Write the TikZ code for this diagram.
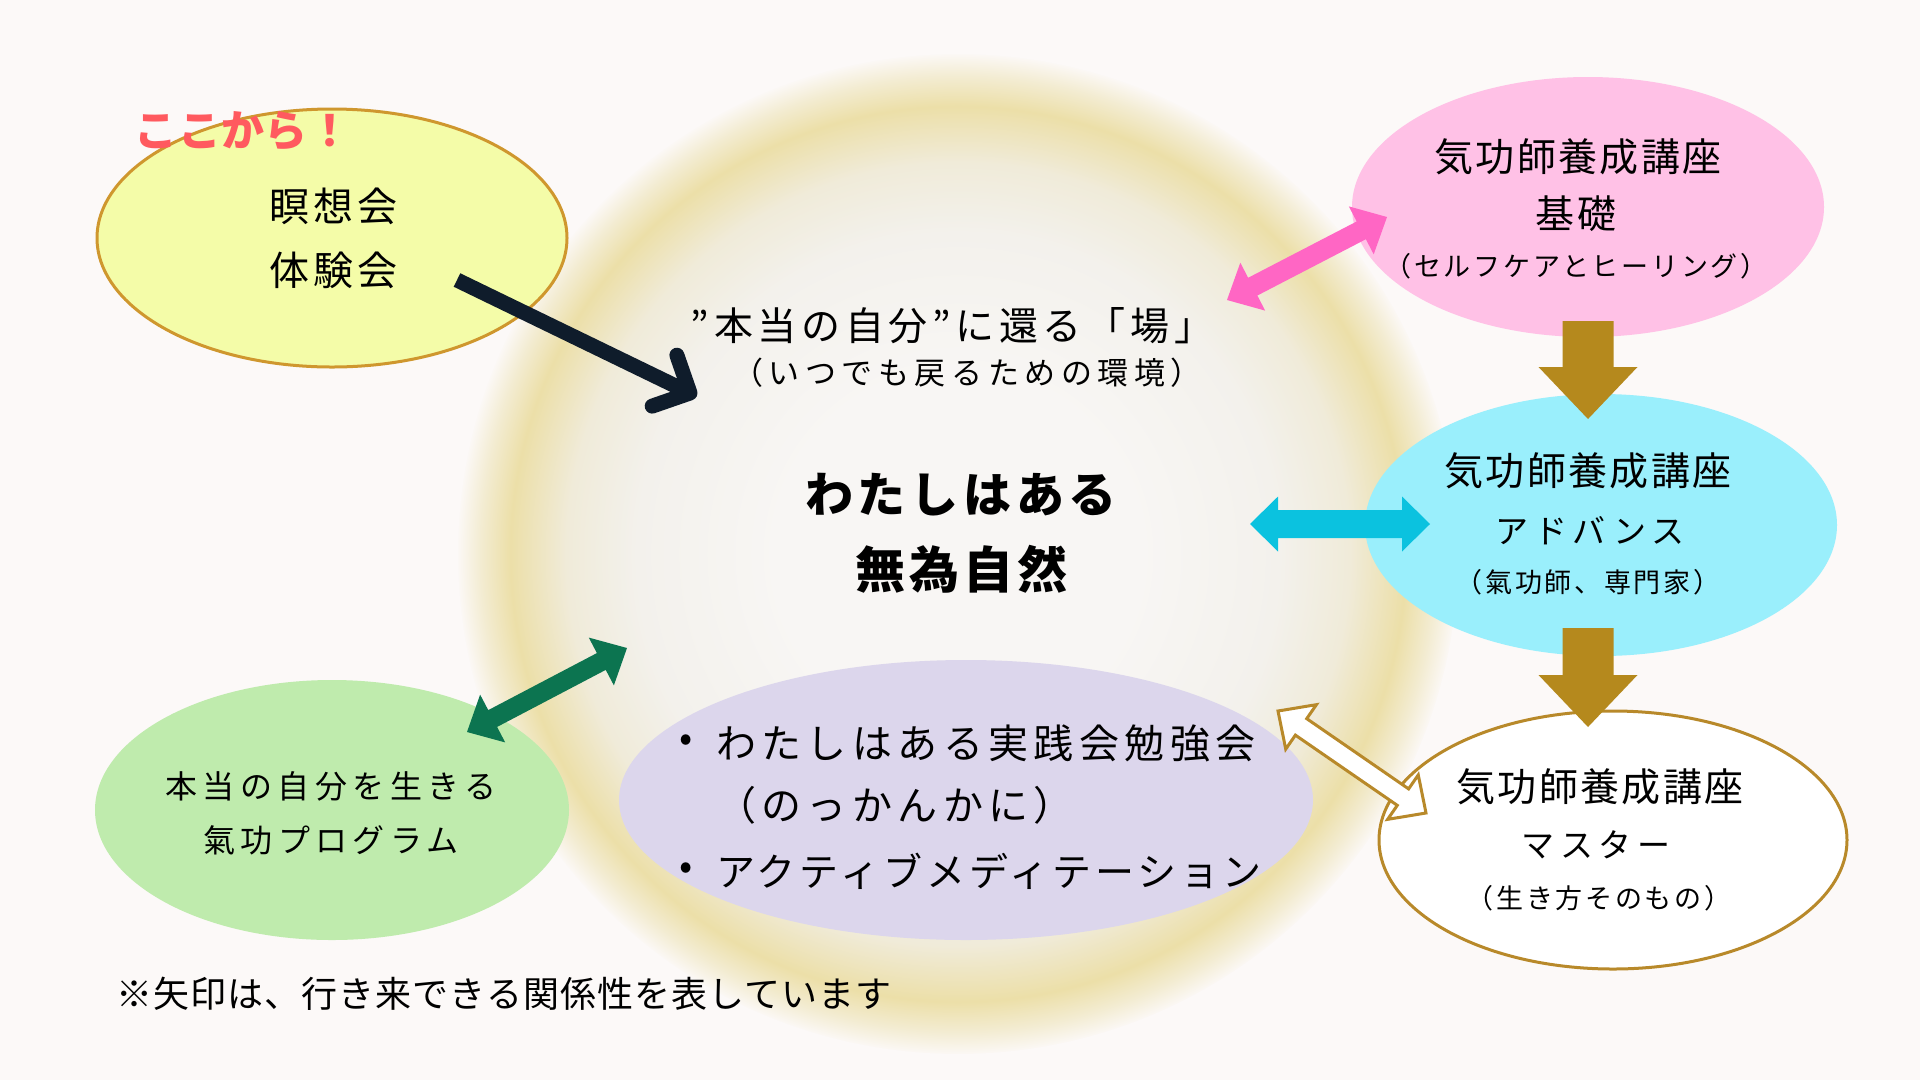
\documentclass[tikz,border=0pt]{standalone}
\usepackage{fontspec}
\usetikzlibrary{shapes.geometric,calc,arrows.meta}
\newfontfamily\jp{Noto Sans CJK JP}
\definecolor{bgc}{HTML}{FCF9F8}
\definecolor{haloA}{HTML}{F8F6F4}
\definecolor{haloB}{HTML}{F3F1EC}
\definecolor{haloC}{HTML}{F0EBD9}
\definecolor{haloD}{HTML}{ECDFA8}
\definecolor{haloE}{HTML}{F3ECD2}
\definecolor{yellowf}{HTML}{F4FCA8}
\definecolor{yellowd}{HTML}{CF972E}
\definecolor{pinkf}{HTML}{FFC1E6}
\definecolor{cyanf}{HTML}{9AEFFC}
\definecolor{greenf}{HTML}{BFEBAD}
\definecolor{purplef}{HTML}{DCD6EC}
\definecolor{goldd}{HTML}{B8892A}
\definecolor{navyc}{HTML}{0F1C2B}
\definecolor{pinka}{HTML}{FF66C4}
\definecolor{cyana}{HTML}{0BC2DF}
\definecolor{greena}{HTML}{0C7450}
\definecolor{golda}{HTML}{B5891D}
\definecolor{redc}{HTML}{FF5A5F}
\pgfdeclareradialshading{halo}{\pgfpoint{0bp}{0bp}}{color(0bp)=(haloA); color(9bp)=(haloA); color(16bp)=(haloB); color(19.5bp)=(haloC); color(22.3bp)=(haloD); color(23.8bp)=(haloE); color(25bp)=(bgc); color(50bp)=(bgc)}
\newcommand\fs[2]{\fontsize{#1pt}{#1pt}\selectfont\addfontfeature{LetterSpace=#2}}
% double block arrow: #1 style, #2 A, #3 B, #4 shaft half width, #5 head length, #6 head half width
\newcommand\dblarrow[6]{%
  \path ($(#2)!#5!(#3)$) coordinate (ba-ha) ($(#3)!#5!(#2)$) coordinate (ba-hb);
  \draw[#1] (#2) -- ($(ba-ha)!#6!90:(#3)$) -- ($(ba-ha)!#4!90:(#3)$) -- ($(ba-hb)!#4!-90:(#2)$) -- ($(ba-hb)!#6!-90:(#2)$) -- (#3) -- ($(ba-hb)!#6!90:(#2)$) -- ($(ba-hb)!#4!90:(#2)$) -- ($(ba-ha)!#4!-90:(#3)$) -- ($(ba-ha)!#6!-90:(#3)$) -- cycle;}
% single block arrow from #2 (tail) to #3 (tip)
\newcommand\sglarrow[6]{%
  \path ($(#3)!#5!(#2)$) coordinate (sa-h);
  \draw[#1] ($(#2)!#4!90:(#3)$) -- ($(sa-h)!#4!-90:(#2)$) -- ($(sa-h)!#6!-90:(#2)$) -- (#3) -- ($(sa-h)!#6!90:(#2)$) -- ($(sa-h)!#4!90:(#2)$) -- ($(#2)!#4!-90:(#3)$) -- cycle;}
\begin{document}
\begin{tikzpicture}[x=1pt,y=-1pt,
  blob/.style={ellipse, inner sep=0pt, outer sep=0pt},
  txt/.style={inner sep=0pt, outer sep=0pt, text=black}]
\useasboundingbox (0,0) rectangle (1920,1080);
\fill[bgc] (0,0) rectangle (1920,1080);
% halo
\fill[shading=halo] (958,554) circle (502pt);
\draw[bgc, line width=4pt] (958,554) circle (502pt);
% ellipses
\node[blob, fill=purplef, minimum width=694pt, minimum height=280pt] (practice) at (966,800) {};
\node[blob, fill=yellowf, draw=yellowd, line width=3pt, minimum width=470pt, minimum height=258pt] (med) at (332,238) {};
\node[blob, fill=pinkf, minimum width=472pt, minimum height=260pt] (basic) at (1588,207) {};
\node[blob, fill=cyanf, minimum width=472pt, minimum height=262pt] (adv) at (1601,525) {};
\node[blob, fill=white, draw=goldd, line width=3pt, minimum width=468pt, minimum height=258pt] (master) at (1613,840) {};
\node[blob, fill=greenf, minimum width=474pt, minimum height=260pt] (prog) at (332,810) {};
% coordinates for connectors
\coordinate (nav-s) at (457,280);
\coordinate (nav-t) at (690,393);
\coordinate (pk-a) at (1227,300);
\coordinate (pk-b) at (1387,217);
\coordinate (cy-a) at (1250,524);
\coordinate (cy-b) at (1430,524);
\coordinate (gr-a) at (467,732);
\coordinate (gr-b) at (627,648);
\coordinate (wh-a) at (1278,711);
\coordinate (wh-b) at (1426,813);
\coordinate (g1-s) at (1588,321);
\coordinate (g1-t) at (1588,419);
\coordinate (g2-s) at (1588,628);
\coordinate (g2-t) at (1588,727);
% navy arrow
\draw[navyc, line width=15pt] (nav-s) -- (nav-t);
\draw[navyc, line width=15pt, line cap=round, line join=round] ($(nav-t)!40pt!45:(nav-s)$) -- (nav-t) -- ($(nav-t)!40pt!-45:(nav-s)$);
% double arrows
\dblarrow{fill=pinka, draw=none}{pk-a}{pk-b}{10pt}{29pt}{27pt}
\dblarrow{fill=cyana, draw=none}{cy-a}{cy-b}{14pt}{28pt}{27.5pt}
\dblarrow{fill=greena, draw=none}{gr-a}{gr-b}{9.5pt}{29pt}{27pt}
\dblarrow{fill=white, draw=goldd, line width=3pt, line join=miter}{wh-a}{wh-b}{10pt}{28pt}{27pt}
% gold arrows
\sglarrow{fill=golda, draw=none}{g1-s}{g1-t}{25.5pt}{52pt}{49.5pt}
\sglarrow{fill=golda, draw=none}{g2-s}{g2-t}{25.5pt}{52pt}{49.5pt}
% texts
\node[txt, text=redc, font={\jp\bfseries\fs{43}{1}}] (here) at (243,131) {ここから！};
\node[txt, font={\jp\fs{40}{10}}] (med1) at (333,206) {瞑想会};
\node[txt, font={\jp\fs{40}{10}}] (med2) at (333,270) {体験会};
\node[txt, font={\jp\fs{39}{6}}] (basic1) at (1578,157) {気功師養成講座};
\node[txt, font={\jp\fs{39}{6}}] (basic2) at (1576,214) {基礎};
\node[txt, font={\jp\fs{27}{10}}] (basic3) at (1576,266) {（セルフケアとヒーリング）};
\node[txt, font={\jp\fs{39}{6}}] (adv1) at (1588,471) {気功師養成講座};
\node[txt, font={\jp\fs{33}{18}}] (adv2) at (1590,531) {アドバンス};
\node[txt, font={\jp\fs{27}{10}}] (adv3) at (1588,582) {（氣功師、専門家）};
\node[txt, font={\jp\fs{39}{6}}] (mas1) at (1600,787) {気功師養成講座};
\node[txt, font={\jp\fs{33}{18}}] (mas2) at (1596,845) {マスター};
\node[txt, font={\jp\fs{27}{10}}] (mas3) at (1599,898) {（生き方そのもの）};
\node[txt, font={\jp\fs{32}{17}}] (prog1) at (331,786) {本当の自分を生きる};
\node[txt, font={\jp\fs{32}{17}}] (prog2) at (331,840) {氣功プログラム};
\node[txt, font={\jp\fs{39}{12}}] (field1) at (952,326) {”本当の自分”に還る「場」};
\node[txt, font={\jp\fs{31}{18}}] (field2) at (967,373) {（いつでも戻るための環境）};
\node[txt, font={\jp\bfseries\fs{48}{10}}] (core1) at (961,495) {わたしはある};
\node[txt, font={\jp\bfseries\fs{50}{8}}] (core2) at (961,569) {無為自然};
\node[txt, font={\jp\fs{39}{10}}] (b1) at (686,743) {•};
\node[txt, font={\jp\fs{39}{10}}] (b2) at (686,871) {•};
\node[txt, anchor=west, font={\jp\fs{40}{13.5}}] (pr1) at (716,743) {わたしはある実践会勉強会};
\node[txt, anchor=west, font={\jp\fs{40}{13.5}}] (pr2) at (716,805) {（のっかんかに）};
\node[txt, anchor=west, font={\jp\fs{39}{10}}] (pr3) at (716,871) {アクティブメディテーション};
\node[txt, anchor=west, font={\jp\fs{36}{3}}] (note) at (116,994) {※矢印は、行き来できる関係性を表しています};
\end{tikzpicture}
\end{document}
